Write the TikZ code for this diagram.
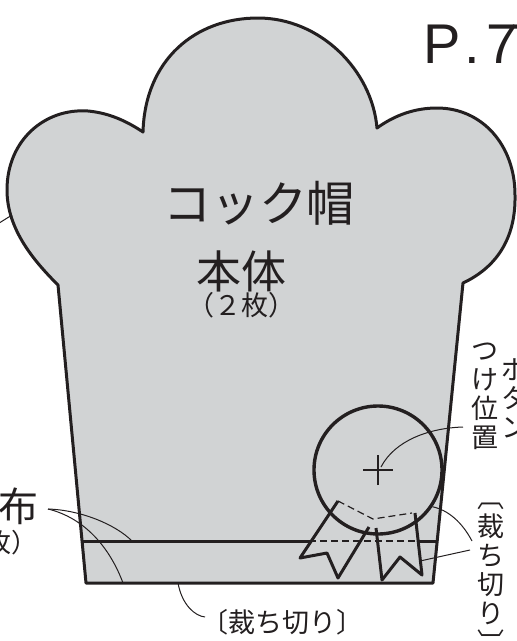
\documentclass[tikz,border=0pt]{standalone}
\usepackage{fontspec}
\newfontfamily\jpfont{Noto Sans CJK JP}
\newfontfamily\pagefont{Liberation Sans}
\usetikzlibrary{positioning}
\definecolor{hatgray}{RGB}{209,211,212}
\definecolor{inkblack}{RGB}{35,31,32}
\tikzset{
  cut/.style={draw=inkblack,line width=3pt,line join=round},
  leader/.style={draw=inkblack,line width=1pt},
  hidden/.style={draw=inkblack,line width=1.2pt,dash pattern=on 7pt off 4pt},
  jp/.style={font=\jpfont,text=inkblack,inner sep=0pt},
  vtext/.style={jp,font=\jpfont\fontsize{27}{29}\selectfont,align=center},
}

\begin{document}
\begin{tikzpicture}[x=1pt,y=-1pt,node distance=4pt]
    \useasboundingbox (0,0) rectangle (517,641);

        \draw[cut,fill=hatgray] (58,285) .. controls (35,262) and (7,230) .. (7,190)
            .. controls (7,140) and (45,108) .. (88,111)
            .. controls (110,113) and (128,122) .. (143,132)
            .. controls (145,60) and (195,18) .. (258,18)
            .. controls (320,18) and (372,70) .. (377,128)
            .. controls (395,115) and (415,108) .. (437,108)
            .. controls (482,108) and (515,145) .. (515,195)
            .. controls (516,240) and (495,268) .. (463,283)
            -- (433,583) -- (86,583) -- cycle;

        \draw[cut] (82,541) -- (309,541);
        \draw[hidden] (309,541) -- (418,541);
        \draw[cut] (418,541) -- (437,541);

        \node[cut,circle,minimum size=128pt,inner sep=0pt,line width=3.4pt] (button) at (378,470) {};
        \draw[line width=1.3pt,draw=inkblack] ([xshift=-15pt]button.center) -- ([xshift=15pt]button.center);
        \draw[line width=1.3pt,draw=inkblack] ([yshift=-15pt]button.center) -- ([yshift=15pt]button.center);

        \draw[cut] (338,501) -- (300,558) -- (327,553) -- (338,578) -- (369,527);
        \draw[cut] (376,528) -- (382,580) -- (400,557) -- (422,575) -- (415,513);
        \draw[hidden] (338,501) -- (373,519) -- (412,513);

        \node[jp,font=\jpfont\fontsize{48}{48}\selectfont] (title) at (259,203) {コック帽};
        \node[jp,font=\jpfont\fontsize{45}{45}\selectfont] (body) [below=25pt of title,xshift=-18pt] {本体};
        \node[jp,font=\jpfont\fontsize{27}{27}\selectfont] (count) [below=0pt of body] {（２枚）};

        \node[jp,font=\jpfont\fontsize{40}{40}\selectfont,anchor=east] (cloth) at (39,506) {別布};
        \node[jp,font=\jpfont\fontsize{26}{26}\selectfont,anchor=east] (clothcount) at (38,543) {（２枚）};

        \node[vtext,anchor=north] (btnlabel) at (485,343) {つ\\け\\位\\置};
        \node[vtext,anchor=north] (btnname) at (515,357) {ボ\\タ\\ン};
        \node[vtext,anchor=north] (cutside) at (491,503) {︹\\裁\\ち\\切\\り\\︺};
        \node[jp,font=\jpfont\fontsize{27}{27}\selectfont] (cutlabel) at (282,622) {〔裁ち切り〕};

        \node[font=\pagefont\fontsize{56}{56}\selectfont,text=inkblack,inner sep=0pt,anchor=base west] (page) at (423,63) {P\kern4pt.\kern6pt7\kern-7pt7};

        \coordinate (btntip) at (463,427);
        \coordinate (cuttipa) at (472,541);
        \coordinate (cuttipb) at (470,550);
        \coordinate (clothtip) at (48,509);
        \coordinate (cuttipc) at (205,617);
        \coordinate (edgetip) at (-4,225);

        \draw[leader] ([shift={(3,-3)}]button.center) .. controls (395,440) and (430,428) .. (btntip);
        \draw[leader] (cuttipa) .. controls (462,522) and (448,510) .. (button.-34);
        \draw[leader] (cuttipb) -- (420,561);
        \draw[leader] (clothtip) .. controls (80,510) and (115,524) .. (132,541);
        \draw[leader] (clothtip) .. controls (85,518) and (110,548) .. (123,583);
        \draw[leader] (178,583) .. controls (182,605) and (195,616) .. (cuttipc);
        \draw[leader] (edgetip) -- (12,215);

    \end{tikzpicture}
\end{document}
